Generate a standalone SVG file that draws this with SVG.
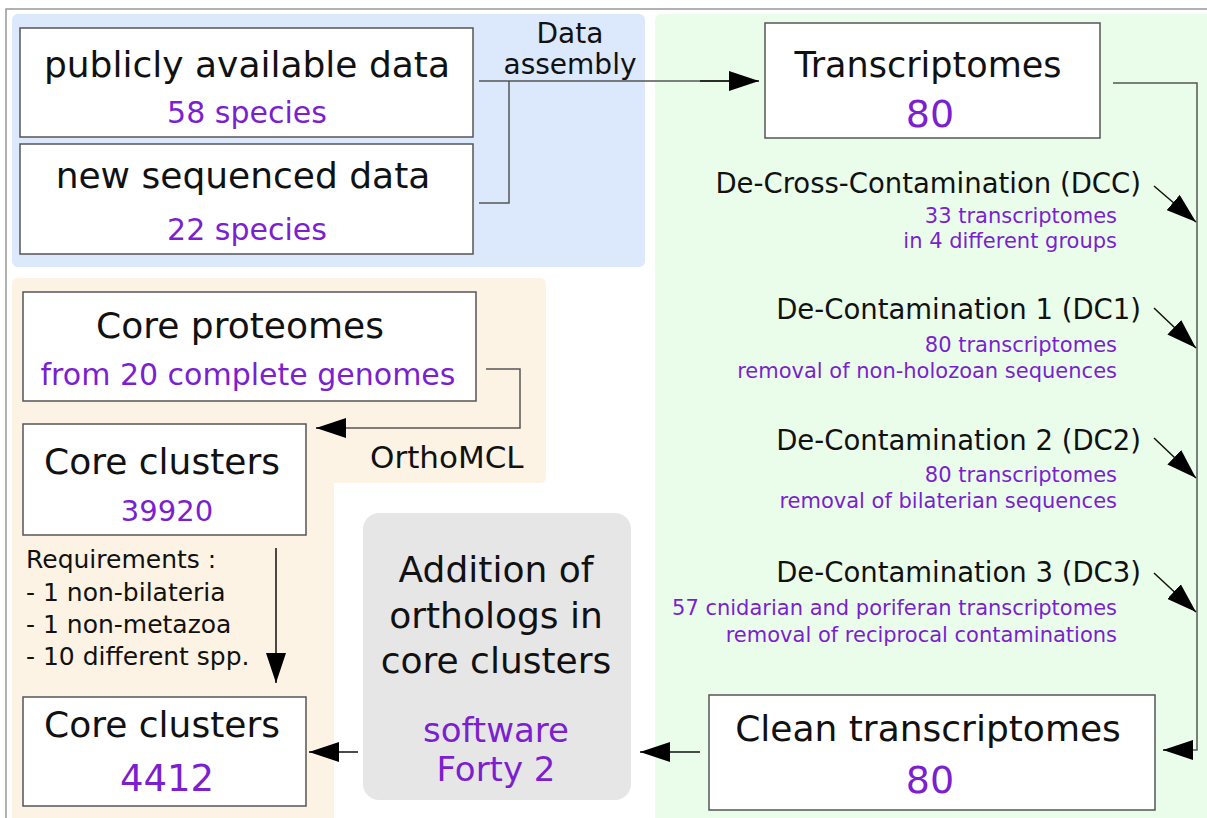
<svg xmlns="http://www.w3.org/2000/svg" width="1207" height="818" viewBox="0 0 1207 818">
<defs>
<style>
text{font-family:"DejaVu Sans","Verdana",sans-serif;fill:#111}
.p{fill:#7b1fd0}
.box{fill:#fff;stroke:#555;stroke-width:1.5}
.ln{fill:none;stroke:#555;stroke-width:1.5}
.ar{fill:none;stroke:#111;stroke-width:1.5}
.m{text-anchor:middle}
.e{text-anchor:end}
</style>
<marker id="ah" viewBox="0 0 30 20" refX="30" refY="10" markerWidth="30" markerHeight="20" markerUnits="userSpaceOnUse" orient="auto">
<path d="M0,0 L30,10 L0,20 Z" fill="#000"/>
</marker>
</defs>
<rect x="0" y="0" width="1207" height="818" fill="#fff"/>
<path d="M6,818 V9 H1207" fill="none" stroke="#999" stroke-width="1.5"/>
<g id="panels">
<rect x="12" y="14" width="633" height="253" rx="6" fill="#dce8fb"/>
<rect x="655" y="14" width="560" height="810" rx="6" fill="#eafdeb"/>
<path d="M18,278 H540 Q546,278 546,284 V477 Q546,483 540,483 H334 V818 H12 V284 Q12,278 18,278 Z" fill="#fdf3e4"/>
</g>
<g id="connectors">
<path class="ln" d="M479,81 H730"/>
<path class="ar" d="M700,81 H759" marker-end="url(#ah)"/>
<path class="ln" d="M479,203 H509 V81"/>
<path class="ln" d="M1113,83 H1197 V750 H1190"/>
<path class="ar" d="M1190,750 H1163" marker-end="url(#ah)"/>
<path class="ar" d="M1154,186 L1196,222" marker-end="url(#ah)"/>
<path class="ar" d="M1154,308 L1196,348" marker-end="url(#ah)"/>
<path class="ar" d="M1154,438 L1196,478" marker-end="url(#ah)"/>
<path class="ar" d="M1154,573 L1196,612" marker-end="url(#ah)"/>
<path class="ln" d="M486,369 H520 V428 H340"/>
<path class="ar" d="M345,428 H316" marker-end="url(#ah)"/>
<path class="ar" d="M276,548 V683" marker-end="url(#ah)"/>
<path class="ar" d="M700,752 H640" marker-end="url(#ah)"/>
<path class="ar" d="M358,752 H309" marker-end="url(#ah)"/>
</g>
<g id="public">
<rect class="box" x="20" y="28" width="453" height="109"/>
<text class="m" x="247" y="77" font-size="36">publicly available data</text>
<text class="m p" x="247" y="123" font-size="30">58 species</text>
</g>
<g id="newseq">
<rect class="box" x="20" y="144" width="453" height="110"/>
<text class="m" x="243" y="188" font-size="36">new sequenced data</text>
<text class="m p" x="247" y="240" font-size="30">22 species</text>
</g>
<g id="assembly-label">
<text class="m" x="570" y="43" font-size="28">Data</text>
<text class="m" x="570" y="74" font-size="28">assembly</text>
</g>
<g id="transcriptomes">
<rect class="box" x="765" y="23" width="335" height="115"/>
<text class="m" x="928" y="77" font-size="35">Transcriptomes</text>
<text class="m p" x="930" y="127" font-size="38">80</text>
</g>
<g id="dcc">
<text class="e" x="1141" y="193" font-size="27.5">De-Cross-Contamination (DCC)</text>
<text class="e p" x="1117" y="223" font-size="21">33 transcriptomes</text>
<text class="e p" x="1117" y="248" font-size="21">in 4 different groups</text>
</g>
<g id="dc1">
<text class="e" x="1141" y="319" font-size="27.5">De-Contamination 1 (DC1)</text>
<text class="e p" x="1117" y="352" font-size="21">80 transcriptomes</text>
<text class="e p" x="1117" y="378" font-size="21">removal of non-holozoan sequences</text>
</g>
<g id="dc2">
<text class="e" x="1141" y="450" font-size="27.5">De-Contamination 2 (DC2)</text>
<text class="e p" x="1117" y="482" font-size="21">80 transcriptomes</text>
<text class="e p" x="1117" y="508" font-size="21">removal of bilaterian sequences</text>
</g>
<g id="dc3">
<text class="e" x="1141" y="582" font-size="27.5">De-Contamination 3 (DC3)</text>
<text class="e p" x="1117" y="615" font-size="21">57 cnidarian and poriferan transcriptomes</text>
<text class="e p" x="1117" y="642" font-size="21">removal of reciprocal contaminations</text>
</g>
<g id="clean">
<rect class="box" x="709" y="695" width="446" height="115"/>
<text class="m" x="928" y="741" font-size="36">Clean transcriptomes</text>
<text class="m p" x="930" y="793" font-size="38">80</text>
</g>
<g id="proteomes">
<rect class="box" x="23" y="292" width="453" height="109"/>
<text class="m" x="240" y="338" font-size="36">Core proteomes</text>
<text class="m p" x="248" y="385" font-size="30">from 20 complete genomes</text>
</g>
<g id="orthomcl-label">
<text x="370" y="468" font-size="31">OrthoMCL</text>
</g>
<g id="clusters1">
<rect class="box" x="23" y="424" width="283" height="111"/>
<text class="m" x="162" y="474" font-size="36">Core clusters</text>
<text class="m p" x="167" y="521" font-size="29">39920</text>
</g>
<g id="requirements">
<text x="26" y="568" font-size="25">Requirements :</text>
<text x="26" y="601" font-size="25">- 1 non-bilateria</text>
<text x="26" y="633" font-size="25">- 1 non-metazoa</text>
<text x="26" y="665" font-size="25">- 10 different spp.</text>
</g>
<g id="addition">
<rect x="363" y="513" width="268" height="287" rx="16" fill="#e6e6e6"/>
<text class="m" x="496" y="582" font-size="36">Addition of</text>
<text class="m" x="496" y="628" font-size="36">orthologs in</text>
<text class="m" x="496" y="673" font-size="36">core clusters</text>
<text class="m p" x="496" y="742" font-size="34">software</text>
<text class="m p" x="496" y="781" font-size="34">Forty 2</text>
</g>
<g id="clusters2">
<rect class="box" x="23" y="697" width="283" height="109"/>
<text class="m" x="162" y="737" font-size="36">Core clusters</text>
<text class="m p" x="167" y="791" font-size="37">4412</text>
</g>
</svg>
